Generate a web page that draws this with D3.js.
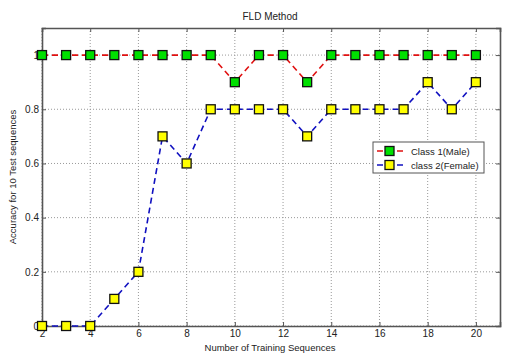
<!DOCTYPE html>
<html><head><meta charset="utf-8">
<script src="https://cdn.jsdelivr.net/npm/d3@7"></script>
<style>body{margin:0;background:#fff}svg{display:block}text{font-family:"Liberation Sans",Arial,sans-serif}</style>
</head><body><svg id="c" width="532" height="364"></svg>
<script>
const trainingSequences = [2,3,4,5,6,7,8,9,10,11,12,13,14,15,16,17,18,19,20];
const class1Male = [1,1,1,1,1,1,1,1,0.9,1,1,0.9,1,1,1,1,1,1,1];
const class2Female = [0,0,0,0.1,0.2,0.7,0.6,0.8,0.8,0.8,0.8,0.7,0.8,0.8,0.8,0.8,0.9,0.8,0.9];
const xTicks = [2,4,6,8,10,12,14,16,18,20];
const yTicks = [0,0.2,0.4,0.6,0.8,1];
const seriesNames = ["Class 1(Male)","class 2(Female)"];

const svg = d3.select("#c");
const m = {l:42, r:32, t:28, b:38};
const W = 532, H = 364;
const x = d3.scaleLinear().domain([2,21]).range([m.l, W-m.r]);
const y = d3.scaleLinear().domain([0,1.1]).range([H-m.b, m.t]);
const axisCol = "#555";
const fs = "9.5px";

// grid
const g = svg.append("g");
g.selectAll(".vx").data(xTicks).join("line")
  .attr("x1",d=>x(d)).attr("x2",d=>x(d)).attr("y1",y(0)).attr("y2",y(1.1))
  .attr("stroke","#999").attr("stroke-width",1).attr("stroke-dasharray","1,2");
g.selectAll(".hy").data(yTicks).join("line")
  .attr("y1",d=>y(d)).attr("y2",d=>y(d)).attr("x1",x(2)).attr("x2",x(21))
  .attr("stroke","#999").attr("stroke-width",1).attr("stroke-dasharray","1,2");

// axes with inward ticks
const xb = svg.append("g").attr("transform",`translate(0,${y(0)})`)
  .call(d3.axisBottom(x).tickValues(xTicks).tickSize(-4).tickPadding(4).tickFormat(d3.format("d")));
const xt = svg.append("g").attr("transform",`translate(0,${y(1.1)})`)
  .call(d3.axisTop(x).tickValues(xTicks).tickSize(-4).tickFormat(""));
const yl = svg.append("g").attr("transform",`translate(${x(2)},0)`)
  .call(d3.axisLeft(y).tickValues(yTicks).tickSize(-4).tickPadding(3).tickFormat(d=>d3.format("")(d)));
const yr = svg.append("g").attr("transform",`translate(${x(21)},0)`)
  .call(d3.axisRight(y).tickValues(yTicks).tickSize(-4).tickFormat(""));
[xb,xt,yl,yr].forEach(a=>{
  a.selectAll("path").attr("stroke",axisCol).attr("stroke-width",1.6);
  a.selectAll("line").attr("stroke",axisCol);
  a.selectAll("text").attr("fill","#222").style("font-size","10px").style("font-family","Liberation Sans, Arial, sans-serif");
});

// lines
const line = d3.line().x((d,i)=>x(trainingSequences[i])).y(d=>y(d));
const series = [
  {name:seriesNames[0], vals:class1Male, color:"#e01010", fill:"#00e000"},
  {name:seriesNames[1], vals:class2Female, color:"#1010c0", fill:"#ffff00"}
];
series.forEach(s=>{
  svg.append("path").datum(s.vals).attr("d",line).attr("fill","none")
    .attr("stroke",s.color).attr("stroke-width",1.6).attr("stroke-dasharray","6,4");
});
series.forEach(s=>{
  svg.append("g").selectAll("rect").data(s.vals).join("rect")
    .attr("x",(d,i)=>x(trainingSequences[i])-4.5).attr("y",d=>y(d)-4.5)
    .attr("width",9).attr("height",9).attr("fill",s.fill).attr("stroke","#111").attr("stroke-width",1.3);
});

// legend
const lg = svg.append("g");
lg.append("rect").attr("x",373).attr("y",142).attr("width",111).attr("height",31)
  .attr("fill","#fff").attr("stroke","#555").attr("stroke-width",1);
series.forEach((s,i)=>{
  const cy = 151 + i*14;
  lg.append("line").attr("x1",377).attr("x2",407).attr("y1",cy).attr("y2",cy)
    .attr("stroke",s.color).attr("stroke-width",1.6).attr("stroke-dasharray","6,4");
  lg.append("rect").attr("x",385).attr("y",cy-4.5).attr("width",9).attr("height",9)
    .attr("fill",s.fill).attr("stroke","#111").attr("stroke-width",1.3);
  lg.append("text").attr("x",411).attr("y",cy+3.5).text(s.name)
    .style("font-size",fs).attr("fill","#222");
});

// titles
svg.append("text").attr("x",270).attr("y",20).attr("text-anchor","middle")
  .style("font-size","10px").attr("fill","#222").text("FLD Method");
svg.append("text").attr("x",270).attr("y",351).attr("text-anchor","middle")
  .style("font-size",fs).attr("fill","#222").text("Number of Training Sequences");
svg.append("text").attr("transform",`translate(16,${(y(0)+y(1.1))/2}) rotate(-90)`)
  .attr("text-anchor","middle").style("font-size",fs).attr("fill","#222")
  .text("Accuracy for 10 Test sequences");
</script></body></html>
